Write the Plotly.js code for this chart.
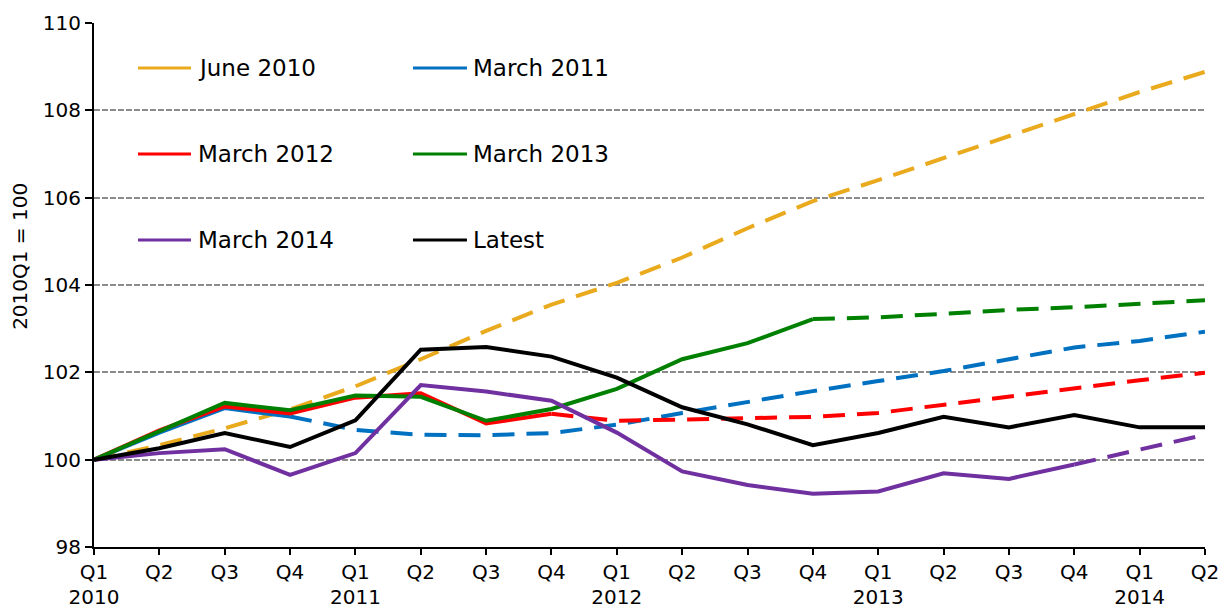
<!DOCTYPE html>
<html>
<head>
<meta charset="utf-8">
<script src="https://cdn.plot.ly/plotly-3.0.1.min.js"></script>
<style>
  html, body { margin: 0; padding: 0; background: #fff; }
  #chart { width: 1222px; height: 608px; }
</style>
</head>
<body>
<div id="chart"></div>
<script>
// ---- Data ----
const quarterLabels = ['Q1','Q2','Q3','Q4','Q1','Q2','Q3','Q4','Q1','Q2','Q3','Q4','Q1','Q2','Q3','Q4','Q1','Q2'];
const yearLabels = ['2010','2011','2012','2013','2014'];
const yearLabelIndex = [0, 4, 8, 12, 16];

const seriesNames = ['June 2010','March 2011','March 2012','March 2013','March 2014','Latest'];
const seriesColors = ['#EAAA1E','#0070C0','#FF0000','#008000','#7030A0','#000000'];
// index of last outturn quarter (solid up to here, dashed forecast after)
const lastOutturn = [0, 3, 7, 11, 15, 17];

const june2010  = [100, 100.33, 100.72, 101.15, 101.68, 102.30, 102.95, 103.55, 104.05, 104.63, 105.30, 105.92, 106.40, 106.90, 107.42, 107.92, 108.42, 108.88];
const march2011 = [100, 100.62, 101.18, 100.99, 100.68, 100.57, 100.56, 100.61, 100.80, 101.07, 101.33, 101.57, 101.80, 102.03, 102.30, 102.57, 102.72, 102.93];
const march2012 = [100, 100.67, 101.22, 101.06, 101.42, 101.52, 100.83, 101.05, 100.89, 100.92, 100.94, 100.98, 101.07, 101.26, 101.45, 101.64, 101.82, 101.99];
const march2013 = [100, 100.66, 101.30, 101.13, 101.47, 101.44, 100.89, 101.16, 101.62, 102.30, 102.67, 103.22, 103.26, 103.34, 103.43, 103.49, 103.57, 103.65];
const march2014 = [100, 100.15, 100.24, 99.65, 100.15, 101.71, 101.56, 101.35, 100.62, 99.73, 99.42, 99.22, 99.27, 99.69, 99.56, 99.89, 100.22, 100.57];
const latest    = [100, 100.26, 100.61, 100.29, 100.90, 102.52, 102.58, 102.36, 101.88, 101.20, 100.81, 100.33, 100.61, 100.98, 100.74, 101.02, 100.74, 100.74];

const seriesValues = [june2010, march2011, march2012, march2013, march2014, latest];

// ---- Build traces ----
const xIdx = quarterLabels.map((_, i) => i);
const FONT = 'DejaVu Sans, sans-serif';
const traces = [];
seriesValues.forEach((vals, s) => {
  const k = lastOutturn[s];
  if (k > 0) {
    traces.push({
      x: xIdx.slice(0, k + 1), y: vals.slice(0, k + 1),
      type: 'scatter', mode: 'lines', name: seriesNames[s],
      line: { color: seriesColors[s], width: 4 },
      showlegend: false, hoverinfo: 'skip'
    });
  }
  if (k < vals.length - 1) {
    traces.push({
      x: xIdx.slice(k), y: vals.slice(k),
      type: 'scatter', mode: 'lines', name: seriesNames[s] + ' (forecast)',
      line: { color: seriesColors[s], width: 4, dash: '22px,12px' },
      showlegend: false, hoverinfo: 'skip'
    });
  }
});
// helper trace for the year-label axis
traces.push({ x: yearLabelIndex, y: yearLabelIndex.map(() => null), xaxis: 'x2', yaxis: 'y',
  type: 'scatter', mode: 'lines', showlegend: false, hoverinfo: 'skip' });

// ---- Legend (2 columns x 3 rows) drawn as shapes + annotations ----
const legendColX = [[0.0396, 0.0873, 0.0918], [0.2871, 0.3357, 0.3393]];
const legendRowY = [0.9141, 0.75, 0.5859];
const shapes = [];
const annotations = [];
seriesNames.forEach((name, s) => {
  const col = s % 2, row = Math.floor(s / 2);
  const c = legendColX[col], yy = legendRowY[row];
  shapes.push({ type: 'line', xref: 'paper', yref: 'paper', x0: c[0], x1: c[1], y0: yy, y1: yy,
    line: { color: seriesColors[s], width: 3 } });
  annotations.push({ xref: 'paper', yref: 'paper', x: c[2], y: yy, xanchor: 'left', yanchor: 'middle',
    text: name, showarrow: false, font: { family: FONT, size: 23, color: '#000' } });
});
annotations.push({ xref: 'paper', yref: 'paper', x: -0.066, y: 0.555, xanchor: 'center', yanchor: 'middle',
  text: '2010Q1 = 100', textangle: -90, showarrow: false, font: { family: FONT, size: 20, color: '#000' } });

const layout = {
  width: 1222, height: 608,
  margin: { l: 94, r: 17, t: 23, b: 61 },
  paper_bgcolor: '#fff', plot_bgcolor: '#fff',
  showlegend: false,
  font: { family: FONT, size: 20, color: '#000' },
  xaxis: {
    range: [0, 17], tickmode: 'array', tickvals: xIdx, ticktext: quarterLabels,
    showgrid: false, zeroline: false, showline: true, linecolor: '#000', linewidth: 2,
    ticks: 'outside', ticklen: 6, tickwidth: 2, tickcolor: '#000',
    tickfont: { family: FONT, size: 20, color: '#000' }, fixedrange: true
  },
  xaxis2: {
    overlaying: 'x', anchor: 'y', side: 'bottom', range: [0, 17],
    tickmode: 'array', tickvals: yearLabelIndex, ticktext: yearLabels,
    showgrid: false, zeroline: false, showline: false, ticks: '',
    ticklabelstandoff: 36,
    tickfont: { family: FONT, size: 20, color: '#000' }, fixedrange: true
  },
  yaxis: {
    range: [98, 110], tickmode: 'array', tickvals: [98, 100, 102, 104, 106, 108, 110],
    showgrid: true, gridcolor: '#8c8c8c', gridwidth: 2, griddash: '6px,2px',
    zeroline: false, showline: true, linecolor: '#000', linewidth: 2,
    ticks: 'outside', ticklen: 7, tickwidth: 2, tickcolor: '#000',
    tickfont: { family: FONT, size: 20, color: '#000' }, fixedrange: true
  },
  shapes: shapes,
  annotations: annotations
};

Plotly.newPlot('chart', traces, layout, { staticPlot: true, displayModeBar: false });
</script>
</body>
</html>
